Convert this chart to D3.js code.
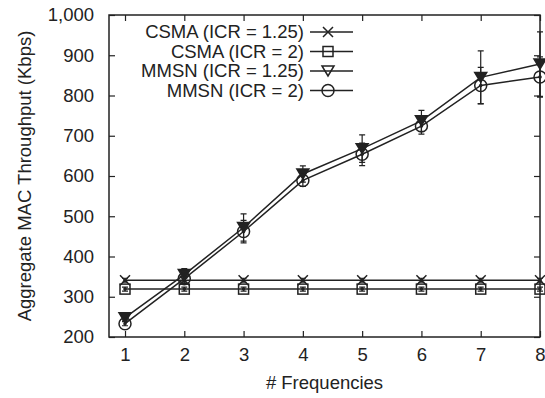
<!DOCTYPE html>
<html>
<head>
<meta charset="utf-8">
<script src="https://cdn.jsdelivr.net/npm/d3@7"></script>
<style>
  body { margin: 0; background: #fff; }
  text { font-family: "Liberation Sans", Arial, sans-serif; fill: #222; }
</style>
</head>
<body>
<div id="chart"></div>
<script>
/*--------------------------- Data ---------------------------*/

const frequencies = [1, 2, 3, 4, 5, 6, 7, 8];
const csma125 = [341, 341, 341, 341, 341, 341, 341, 341];
const csma125Err = [5, 5, 5, 5, 5, 5, 5, 5];
const csma2 = [319, 319, 319, 319, 319, 319, 319, 319];
const csma2Err = [5, 5, 5, 5, 5, 5, 5, 5];
const mmsn125 = [248, 355, 472, 605, 668, 737, 845, 878];
const mmsn125Err = [6, 15, 34, 20, 34, 26, 66, 80];
const mmsn2 = [233, 345, 462, 589, 654, 724, 825, 846];
const mmsn2Err = [5, 12, 28, 15, 28, 20, 45, 50];
const yTicks = [200, 300, 400, 500, 600, 700, 800, 900, 1000];

const seriesNames = ["CSMA (ICR = 1.25)", "CSMA (ICR = 2)", "MMSN (ICR = 1.25)", "MMSN (ICR = 2)"];

/*--------------------------- Init ---------------------------*/

const WIDTH = 545;
const HEIGHT = 398;
const MARGIN = { top: 15, right: 5, bottom: 61, left: 109 };
const INK = "#222";
const FONT = 18.5;

const series = [
    { name: seriesNames[0], values: csma125, err: csma125Err, marker: "cross" },
    { name: seriesNames[1], values: csma2, err: csma2Err, marker: "square" },
    { name: seriesNames[2], values: mmsn125, err: mmsn125Err, marker: "triangle" },
    { name: seriesNames[3], values: mmsn2, err: mmsn2Err, marker: "circle" },
];

const svg = d3.select("#chart").append("svg")
    .attr("width", WIDTH)
    .attr("height", HEIGHT);

const xScale = d3.scaleLinear().domain([0.73, 8]).range([MARGIN.left, WIDTH - MARGIN.right]);
const yScale = d3.scaleLinear().domain([200, 1000]).range([HEIGHT - MARGIN.bottom, MARGIN.top]);

const x0 = MARGIN.left, x1 = WIDTH - MARGIN.right;
const y0 = HEIGHT - MARGIN.bottom, y1 = MARGIN.top;

//axes (gnuplot style: inward ticks, mirrored)

const xAxis = svg.append("g")
    .attr("transform", `translate(0,${y0})`)
    .call(d3.axisBottom(xScale).tickValues(frequencies).tickSize(-6).tickPadding(11).tickFormat(d3.format("d")));
const xTop = svg.append("g")
    .attr("transform", `translate(0,${y1})`)
    .call(d3.axisTop(xScale).tickValues(frequencies).tickSize(-6).tickFormat(""));
const yAxis = svg.append("g")
    .attr("transform", `translate(${x0},0)`)
    .call(d3.axisLeft(yScale).tickValues(yTicks).tickSize(-6).tickPadding(15).tickFormat(d3.format(",")));
const yRight = svg.append("g")
    .attr("transform", `translate(${x1},0)`)
    .call(d3.axisRight(yScale).tickValues(yTicks).tickSize(-6).tickFormat(""));

[xAxis, xTop, yAxis, yRight].forEach(g => {
    g.select(".domain").remove();
    g.selectAll("line").attr("stroke", INK).attr("stroke-width", 1.2);
    g.selectAll("text").attr("font-size", FONT).attr("fill", INK)
        .attr("font-family", "'Liberation Sans', Arial, sans-serif");
});

svg.append("rect")
    .attr("x", x0).attr("y", y1)
    .attr("width", x1 - x0).attr("height", y0 - y1)
    .attr("fill", "none").attr("stroke", INK).attr("stroke-width", 1.5);

//axis titles

svg.append("text")
    .attr("x", (x0 + x1) / 2)
    .attr("y", 389)
    .attr("text-anchor", "middle")
    .attr("font-size", FONT)
    .text("# Frequencies");

svg.append("text")
    .attr("transform", `translate(31,${(y0 + y1) / 2}) rotate(-90)`)
    .attr("text-anchor", "middle")
    .attr("font-size", FONT)
    .text("Aggregate MAC Throughput (Kbps)");

//markers

function drawMarker(g, type, cx, cy) {
    if (type === "cross") {
        g.append("path")
            .attr("d", `M${cx - 5},${cy - 5}L${cx + 5},${cy + 5}M${cx - 5},${cy + 5}L${cx + 5},${cy - 5}`)
            .attr("stroke", INK).attr("stroke-width", 1.5).attr("fill", "none");
    } else if (type === "square") {
        g.append("rect")
            .attr("x", cx - 5).attr("y", cy - 5).attr("width", 10).attr("height", 10)
            .attr("fill", "none").attr("stroke", INK).attr("stroke-width", 1.5);
    } else if (type === "triangle") {
        g.append("path")
            .attr("d", `M${cx - 6},${cy - 5}L${cx + 6},${cy - 5}L${cx},${cy + 5}Z`)
            .attr("fill", "none").attr("stroke", INK).attr("stroke-width", 1.5);
    } else if (type === "circle") {
        g.append("circle")
            .attr("cx", cx).attr("cy", cy).attr("r", 6)
            .attr("fill", "none").attr("stroke", INK).attr("stroke-width", 1.5);
    }
}

//series

const line = d3.line().x((d, i) => xScale(frequencies[i])).y(d => yScale(d));

series.forEach(s => {
    const g = svg.append("g");

    g.append("path")
        .datum(s.values)
        .attr("d", line)
        .attr("fill", "none")
        .attr("stroke", INK)
        .attr("stroke-width", 1.5);

    //error bars
    s.values.forEach((v, i) => {
        const cx = xScale(frequencies[i]);
        const top = yScale(v + s.err[i]);
        const bot = yScale(v - s.err[i]);
        g.append("path")
            .attr("d", `M${cx},${top}L${cx},${bot}M${cx - 3},${top}L${cx + 3},${top}M${cx - 3},${bot}L${cx + 3},${bot}`)
            .attr("stroke", INK).attr("stroke-width", 1.2).attr("fill", "none");
    });

    s.values.forEach((v, i) => {
        const cx = xScale(frequencies[i]);
        const cy = yScale(v);
        if (s.marker === "triangle") {
            g.append("path")
                .attr("d", `M${cx - 6},${cy - 5}L${cx + 6},${cy - 5}L${cx},${cy + 5}Z`)
                .attr("fill", INK).attr("stroke", INK).attr("stroke-width", 1.5);
        } else {
            drawMarker(g, s.marker, cx, cy);
            g.append("circle").attr("cx", cx).attr("cy", cy).attr("r", 1.8).attr("fill", INK);
        }
    });
});

//legend

const legend = svg.append("g");
series.forEach((s, i) => {
    const ly = 32 + i * 19.5;
    legend.append("text")
        .attr("x", 304)
        .attr("y", ly)
        .attr("dy", "0.35em")
        .attr("text-anchor", "end")
        .attr("font-size", FONT)
        .text(s.name);
    legend.append("line")
        .attr("x1", 310).attr("x2", 353)
        .attr("y1", ly).attr("y2", ly)
        .attr("stroke", INK).attr("stroke-width", 1.5);
    drawMarker(legend, s.marker, 328, ly);
});
</script>
</body>
</html>
